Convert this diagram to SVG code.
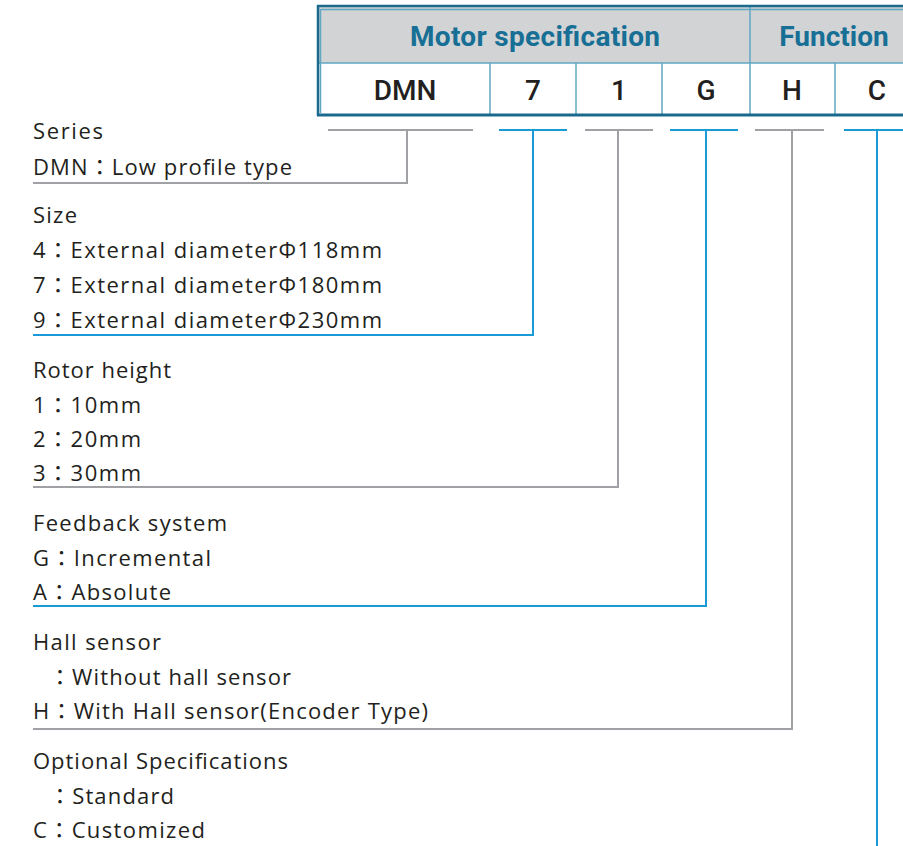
<svg xmlns="http://www.w3.org/2000/svg" width="903" height="846" viewBox="0 0 903 846">
<style>
.hdr{font-family:Roboto,"Liberation Sans",sans-serif;font-weight:700;font-size:28px;fill:#176f96;text-anchor:middle}
.code{font-family:Roboto,"Liberation Sans",sans-serif;font-weight:500;font-size:28px;fill:#231f20;text-anchor:middle}
.t{font-family:"Open Sans","Noto Sans CJK JP","Liberation Sans",sans-serif;font-size:22px;fill:#231f20}
.frame{stroke:#1b6a8e;fill:none}
.inner{stroke:#62a6c2;stroke-width:1.5;fill:none}
.g{stroke:#a0a1a4;stroke-width:2;fill:none}
.b{stroke:#1a9ad6;stroke-width:2;fill:none}
</style>
<rect width="903" height="846" fill="#ffffff"/>
<g id="table">
  <rect x="318" y="7" width="600" height="56" fill="#d1d3d4"/>
  <rect x="318" y="63" width="600" height="52" fill="#ffffff"/>
  <path class="inner" d="M321,9.5 H903 M320.5,9 V113"/>
  <path class="inner" d="M318,63 H903 M490,63 V115 M576,63 V115 M662,63 V115 M750,7 V115 M835,63 V115"/>
  <path class="frame" stroke-width="2.5" d="M317,6 H903 M318,5 V116"/>
  <path class="frame" stroke-width="3" d="M317,115 H903"/>
  <text class="hdr" x="535" y="46" textLength="250" lengthAdjust="spacing">Motor specification</text>
  <text class="hdr" x="834" y="46">Function</text>
</g>
<g id="code-DMN"><text class="code" x="405" y="100">DMN</text></g>
<g id="code-7"><text class="code" x="533" y="100">7</text></g>
<g id="code-1"><text class="code" x="619" y="100">1</text></g>
<g id="code-G"><text class="code" x="706" y="100">G</text></g>
<g id="code-H"><text class="code" x="792" y="100">H</text></g>
<g id="code-C"><text class="code" x="877" y="100">C</text></g>
<g id="connectors">
  <path class="g" d="M328,130 H473 M407,130 V183 H33"/>
  <path class="b" d="M499,130 H567 M533,130 V335 H33"/>
  <path class="g" d="M585,130 H653 M618,130 V487 H33"/>
  <path class="b" d="M670,130 H738 M706,130 V606 H33"/>
  <path class="g" d="M755,130 H824 M792,130 V729 H33"/>
  <path class="b" d="M844,130 H903 M877,130 V846"/>
</g>
<g id="series">
  <text class="t" x="33" y="139" textLength="70" lengthAdjust="spacing">Series</text>
  <text class="t" x="33" y="175" textLength="259" lengthAdjust="spacing">DMN：Low profile type</text>
</g>
<g id="size">
  <text class="t" x="33" y="223" textLength="44" lengthAdjust="spacing">Size</text>
  <text class="t" x="33" y="258" textLength="349" lengthAdjust="spacing">4：External diameterΦ118mm</text>
  <text class="t" x="33" y="293" textLength="349" lengthAdjust="spacing">7：External diameterΦ180mm</text>
  <text class="t" x="33" y="328" textLength="349" lengthAdjust="spacing">9：External diameterΦ230mm</text>
</g>
<g id="rotor">
  <text class="t" x="33" y="378" textLength="138" lengthAdjust="spacing">Rotor height</text>
  <text class="t" x="33" y="413" textLength="108" lengthAdjust="spacing">1：10mm</text>
  <text class="t" x="33" y="447" textLength="108" lengthAdjust="spacing">2：20mm</text>
  <text class="t" x="33" y="481" textLength="108" lengthAdjust="spacing">3：30mm</text>
</g>
<g id="feedback">
  <text class="t" x="33" y="531" textLength="194" lengthAdjust="spacing">Feedback system</text>
  <text class="t" x="33" y="566" textLength="178" lengthAdjust="spacing">G：Incremental</text>
  <text class="t" x="33" y="600" textLength="138" lengthAdjust="spacing">A：Absolute</text>
</g>
<g id="hall">
  <text class="t" x="33" y="650" textLength="128" lengthAdjust="spacing">Hall sensor</text>
  <text class="t" x="49" y="685" textLength="242" lengthAdjust="spacing">：Without hall sensor</text>
  <text class="t" x="33" y="719" textLength="395" lengthAdjust="spacing">H：With Hall sensor(Encoder Type)</text>
</g>
<g id="optional">
  <text class="t" x="33" y="769" textLength="255" lengthAdjust="spacing">Optional Specifications</text>
  <text class="t" x="49" y="804" textLength="125" lengthAdjust="spacing">：Standard</text>
  <text class="t" x="33" y="838" textLength="172" lengthAdjust="spacing">C：Customized</text>
</g>
</svg>
